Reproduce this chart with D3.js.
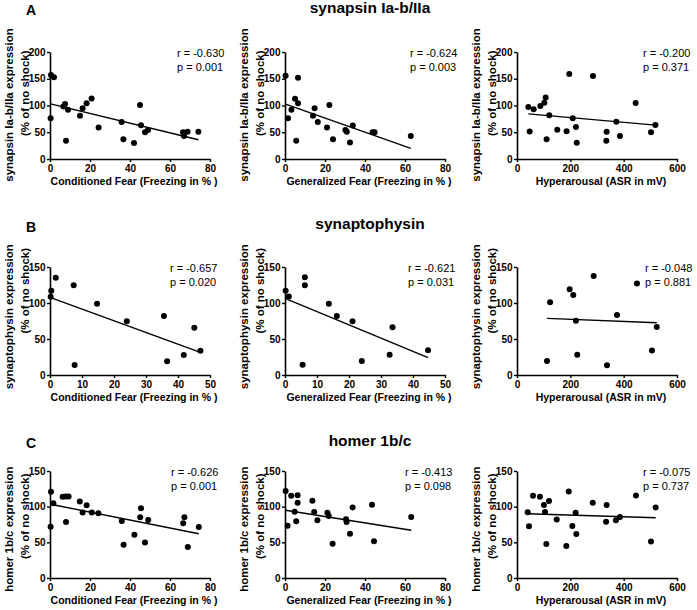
<!DOCTYPE html>
<html>
<head>
<meta charset="utf-8">
<script src="https://d3js.org/d3.v7.min.js"></script>
<style>
  body { margin: 0; background: #fff; }
  text { font-family: "Liberation Sans", Arial, sans-serif; }
</style>
</head>
<body>
<div id="fig"></div>
<script>
// values, [x, y] per animal
const synapsinCF = [[0.5,157],[2,153],[0.3,76],[7.5,103],[6.7,98],[9,92],[8,34],[15,81],[16.3,95],[18.3,104],[20.8,113],[24.3,59],[35.8,69],[36.7,37],[42,30],[45,101],[45.5,63],[47.5,50],[49,54],[66.5,50],[67,43],[68.8,51],[74.2,51]];
const synapsinGF = [[0.3,155.6],[1.5,76],[3.2,92],[5,112.5],[6.5,152],[6.5,104],[5.6,34],[14,81],[14.8,95],[16.4,69],[21,59],[22.2,101],[24,37],[30.2,54],[30.9,51],[32.5,31],[33.9,62.5],[43.8,50],[44.8,50],[62.9,43]];
const synapsinASR = [[42.5,97],[47.5,51.4],[62.5,93],[87.5,99],[102.5,105],[107.5,115],[111,36.8],[121,82],[151,54.5],[186,52],[196,158.7],[209,76],[221,60],[224,30.5],[285,155],[336,50.8],[335,34],[372.5,69.7],[386,43],[445,104.8],[502.5,50],[519,63.4]];

const synaptoCF = [[0.2,108.8],[0.4,117],[1.8,135],[7.4,124.5],[7.7,14],[14.7,99],[24,74.5],[35.6,82],[36.6,19],[41.8,27.8],[45.1,65.7],[47,33.8]];
const synaptoGF = [[0.2,117],[1.2,109],[6.2,135.6],[6.2,124.5],[5.5,14.4],[13.7,99],[16.2,82],[21.1,74.5],[24,19.4],[32.7,28.2],[33.6,66.2],[44.7,34.3]];
const synaptoASR = [[124,101],[112.5,19.4],[197.5,119],[211,111],[221,75.4],[226,28],[287.5,137.6],[337.5,13.7],[375,83.5],[450,127],[506,34],[524,66.5]];

const homerCF = [[0.5,120.8],[0.3,72],[1.7,104.8],[6.3,113.8],[7.8,114.2],[9.3,114.2],[8,78.5],[14.9,107.2],[16.3,91.7],[18.3,102],[20.9,91.7],[24.2,90.7],[35.9,79.9],[36.8,46.5],[42.2,60.6],[45.1,85.1],[45.5,97.8],[47.5,49.8],[49.1,81.3],[66.6,76.6],[67.2,85.1],[68.9,43.3],[74.4,71.5]];
const homerGF = [[0.3,122],[1.3,73.4],[3.1,115.4],[4.8,93],[5.6,79.4],[6.3,115.9],[6.3,105.6],[13.7,108.4],[14.6,92.5],[16.2,80.8],[21.2,91.6],[21.9,86.9],[23.8,48.1],[30.5,82.2],[30.8,78.5],[32.5,62.1],[33.8,99],[43.5,102.8],[44.5,51.4],[63.1,85.5]];
const homerASR = [[40,92],[45,72.4],[60,115.4],[86,114],[101,102.3],[105,92.5],[120,108],[110,47.7],[149,82],[194,121.4],[207.5,72.9],[220,91.5],[222.5,61.7],[185,44.9],[284,105.6],[336,102.3],[334,79],[371,80.8],[386,85.5],[446,115.8],[502.5,51],[520,99]];

// regression lines (end points as drawn)
const fits = [
  [[0.3,103],[74.2,36]], [[0.3,102.5],[62.9,20]], [[42.5,84.4],[519,63.4]],
  [[0.2,107.4],[47,31.5]], [[0.2,106],[44.7,24]], [[112.5,78.7],[524,72.6]],
  [[0.3,103.4],[74.4,62]], [[0.3,95],[63.1,67]], [[40,90.1],[520,84.5]]
];
const rValues = ["-0.630","-0.624","-0.200","-0.657","-0.621","-0.048","-0.626","-0.413","-0.075"];
const pValues = ["0.001","0.003","0.371","0.020","0.031","0.881","0.001","0.098","0.737"];

const rowTitles = ["synapsin Ia-b/IIa", "synaptophysin", "homer 1b/c"];
const rowLetters = ["A", "B", "C"];
const yLabels = ["synapsin Ia-b/IIa expression", "synaptophysin expression", "homer 1b/c expression"];
const yLabel2 = "(% of no shock)";
const xLabels = ["Conditioned Fear (Freezing in % )", "Generalized Fear (Freezing in % )", "Hyperarousal (ASR in mV)"];

const yTicksRow = [[0,50,100,150,200], [0,50,100,150], [0,50,100,150]];
const xTicksFear = [0,20,40,60,80];
const xTicksFearB = [0,10,20,30,40,50];
const xTicksASR = [0,200,400,600];

const data = [synapsinCF, synapsinGF, synapsinASR, synaptoCF, synaptoGF, synaptoASR, homerCF, homerGF, homerASR];

// layout
const W = 697, H = 610;
const colLeft = [50, 285, 517], plotW = 160;
const rowTop = [52, 267, 471], rowBot = [159, 375, 578];
const ylabC1 = [105, 316.7, 529.2], ylabC2 = [93.3, 290.8, 516.3];
const titleY = [12.5, 229, 446], letterY = [15, 231.5, 448];
const annX = [[177,410,643],[170,408,645],[171,405,643]];

const svg = d3.select("#fig").append("svg").attr("width", W).attr("height", H);

rowTitles.forEach((t, r) => {
  svg.append("text").attr("x", 370).attr("y", titleY[r]).attr("text-anchor", "middle")
    .attr("font-size", 15.5).attr("font-weight", "bold").text(t);
  svg.append("text").attr("x", 26).attr("y", letterY[r])
    .attr("font-size", 14).attr("font-weight", "bold").text(rowLetters[r]);
});

data.forEach((pts, i) => {
  const r = Math.floor(i / 3), c = i % 3;
  const L = colLeft[c], T = rowTop[r], B = rowBot[r];
  const xt = c == 2 ? xTicksASR : (r == 1 ? xTicksFearB : xTicksFear);
  const yt = yTicksRow[r];
  const x = d3.scaleLinear().domain([0, xt[xt.length-1]]).range([L, L + plotW]);
  const y = d3.scaleLinear().domain([0, yt[yt.length-1]]).range([B, T]);

  const gx = svg.append("g").attr("transform", `translate(0,${B})`)
    .call(d3.axisBottom(x).tickValues(xt).tickSize(3).tickSizeOuter(0).tickPadding(3));
  const gy = svg.append("g").attr("transform", `translate(${L},0)`)
    .call(d3.axisLeft(y).tickValues(yt).tickSize(3).tickSizeOuter(0).tickPadding(1.5));
  [gx, gy].forEach(g => {
    g.select(".domain").attr("stroke-width", 1.6);
    g.selectAll(".tick line").attr("stroke-width", 1.4);
    g.selectAll("text").attr("font-size", 10).attr("font-weight", "bold")
      .attr("font-family", "Liberation Sans, Arial, sans-serif").attr("fill", "#000");
  });

  svg.append("g").selectAll("circle").data(pts).join("circle")
    .attr("cx", d => x(d[0])).attr("cy", d => y(d[1])).attr("r", 3).attr("fill", "#000");

  svg.append("path").datum(fits[i])
    .attr("d", d3.line().x(d => x(d[0])).y(d => y(d[1])))
    .attr("stroke", "#000").attr("stroke-width", 1.4).attr("fill", "none");

  svg.append("text").attr("x", annX[r][c]).attr("y", T + 5).attr("font-size", 11)
    .text("r = " + rValues[i]);
  svg.append("text").attr("x", annX[r][c]).attr("y", T + 19).attr("font-size", 11)
    .text("p = " + pValues[i]);

  svg.append("text").attr("x", L + plotW / 2 + 4).attr("y", B + 26)
    .attr("text-anchor", "middle").attr("font-size", 10.5).attr("font-weight", "bold")
    .text(xLabels[c]);

  svg.append("text").attr("transform", `translate(${L - 41},${ylabC1[r]}) rotate(-90)`)
    .attr("dy", "0.35em").attr("text-anchor", "middle").attr("font-size", 11.5)
    .attr("font-weight", "bold").text(yLabels[r]);
  svg.append("text").attr("transform", `translate(${L - 25.5},${ylabC2[r]}) rotate(-90)`)
    .attr("dy", "0.35em").attr("text-anchor", "middle").attr("font-size", 11.5)
    .attr("font-weight", "bold").text(yLabel2);
});
</script>
</body>
</html>
